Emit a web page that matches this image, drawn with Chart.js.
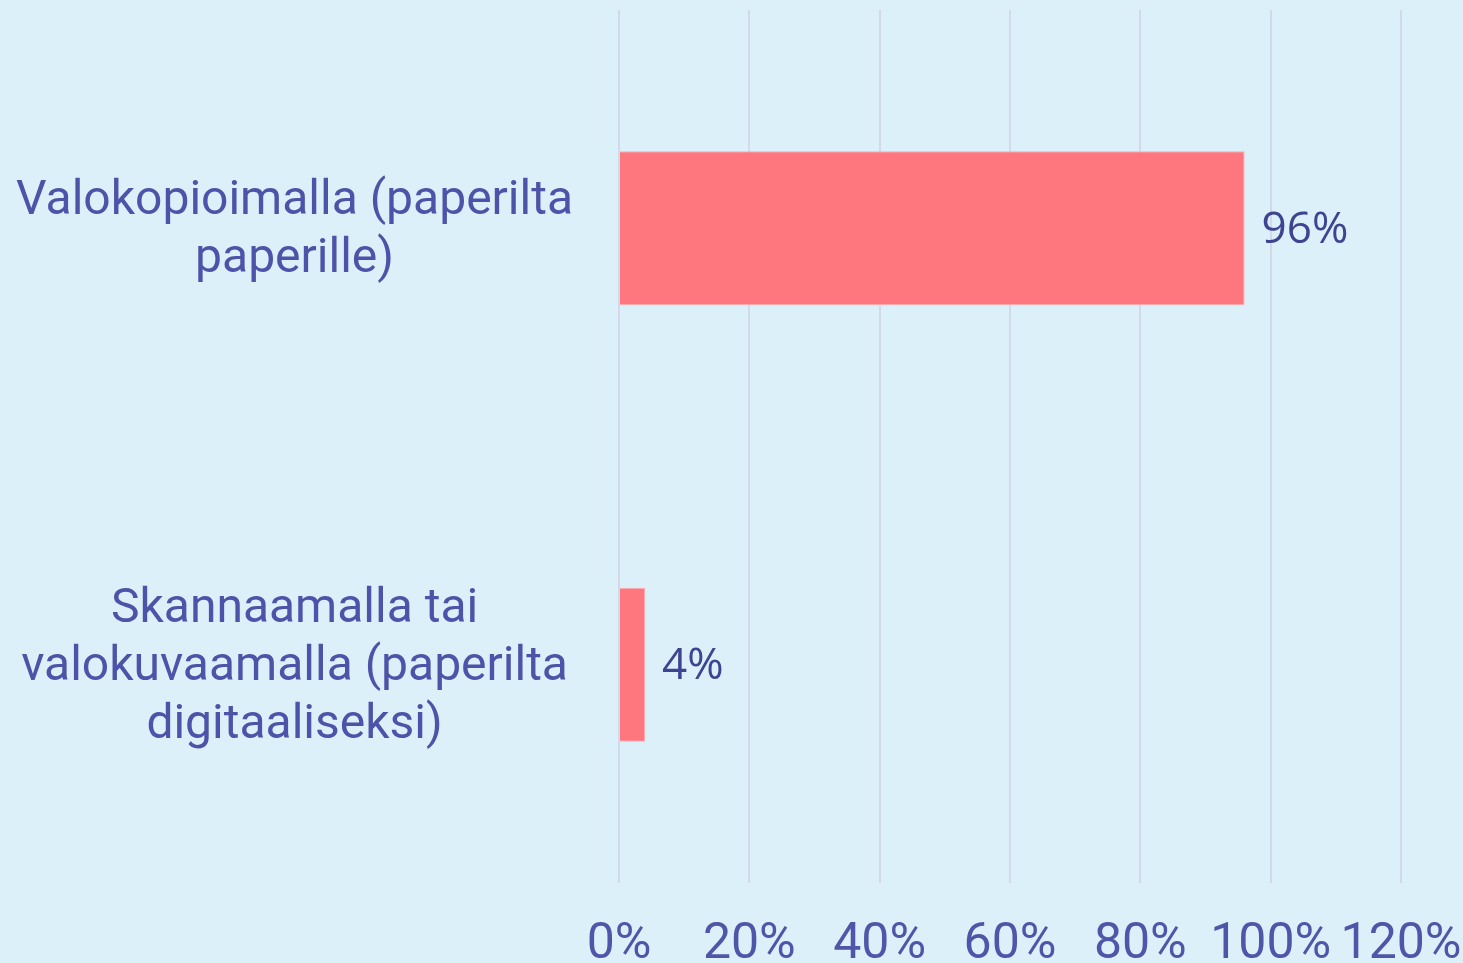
<!DOCTYPE html>
<html>
<head>
<meta charset="utf-8">
<script src="https://cdn.jsdelivr.net/npm/chart.js@4.4.0/dist/chart.umd.min.js"></script>
<style>
  html, body { margin: 0; padding: 0; background: #dcf0f9; }
  #wrap { width: 1463px; height: 963px; position: relative; }
</style>
</head>
<body>
<div id="wrap"><canvas id="c" width="1463" height="963"></canvas></div>
<script>
const categories = [
  ["Valokopioimalla (paperilta", "paperille)"],
  ["Skannaamalla tai", "valokuvaamalla (paperilta", "digitaaliseksi)"]
];
const values = [96, 4];
const tickMax = 120;
const tickStep = 20;

const valueLabels = {
  id: 'valueLabels',
  afterDatasetsDraw(chart) {
    const ctx = chart.ctx;
    const meta = chart.getDatasetMeta(0);
    ctx.save();
    ctx.font = '44px "Open Sans", "Noto Sans", sans-serif';
    ctx.fillStyle = '#3e4492';
    ctx.textAlign = 'left';
    ctx.textBaseline = 'middle';
    meta.data.forEach((bar, i) => {
      ctx.fillText(values[i] + '%', bar.x + 17, bar.y + 2);
    });
    ctx.restore();
  }
};

new Chart(document.getElementById('c'), {
  type: 'bar',
  data: {
    labels: categories,
    datasets: [{
      data: values,
      backgroundColor: '#ff777e',
      borderColor: '#ffa9b2',
      borderWidth: 1,
      barPercentage: 0.353,
      categoryPercentage: 1.0
    }]
  },
  options: {
    indexAxis: 'y',
    responsive: false,
    animation: false,
    layout: { padding: { top: 10, right: 62, left: 0, bottom: 0 } },
    plugins: { legend: { display: false }, tooltip: { enabled: false } },
    scales: {
      x: {
        min: 0, max: tickMax,
        ticks: {
          stepSize: tickStep,
          callback: v => v + '%',
          color: '#4d56a9',
          font: { family: 'Roboto, sans-serif', size: 50, lineHeight: 1.0 },
          padding: 37,
          maxRotation: 0, autoSkip: false
        },
        grid: { color: '#d3d8ea', lineWidth: 2, drawTicks: false },
        border: { display: false },
        afterFit: s => { s.height = 80; s.paddingLeft = 0; s.paddingRight = 0; }
      },
      y: {
        ticks: {
          color: '#4b54a8',
          font: { family: 'Roboto, sans-serif', size: 48, lineHeight: 1.21 },
          crossAlign: 'center',
          padding: 46,
          labelOffset: 3
        },
        grid: { display: false, drawTicks: false },
        border: { display: false },
        afterFit: s => { s.width = 619; s.paddingTop = 0; s.paddingBottom = 0; }
      }
    }
  },
  plugins: [valueLabels]
});
</script>
</body>
</html>
